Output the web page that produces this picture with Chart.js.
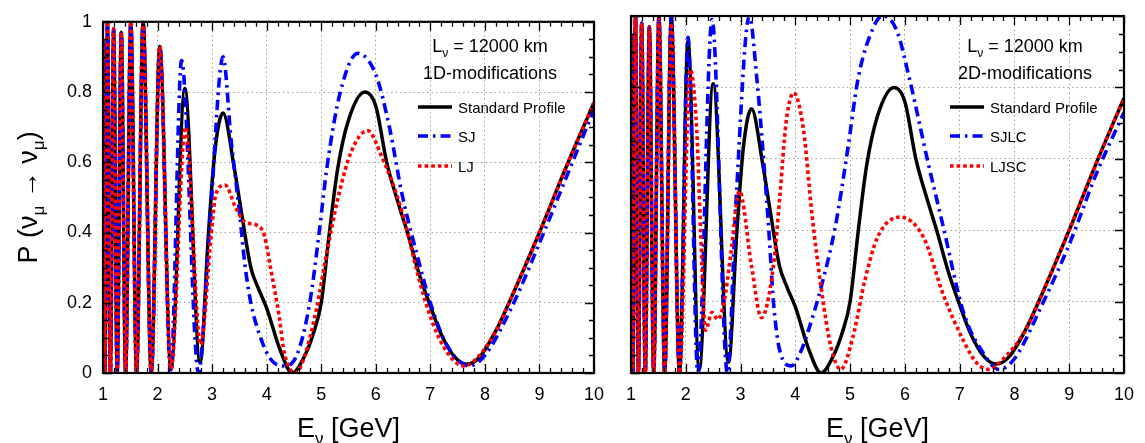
<!DOCTYPE html>
<html>
<head>
<meta charset="utf-8">
<script src="https://cdn.jsdelivr.net/npm/chart.js@4.4.0/dist/chart.umd.min.js"></script>
<style>
  body { margin: 0; background: #fff; width: 1145px; height: 443px; overflow: hidden; position: relative; }
  canvas { position: absolute; top: 0; }
  #left { left: 0; }
  #right { left: 615px; }
</style>
</head>
<body>
<canvas id="left" width="615" height="443"></canvas>
<canvas id="right" width="530" height="443"></canvas>
<script>
/* Datos: E (GeV) y P(nu_mu -> nu_mu) */
const stdE = [1.00, 1.033, 1.082, 1.135, 1.195, 1.26, 1.335, 1.414, 1.51, 1.615, 1.735, 1.885, 2.04, 2.245, 2.5, 2.78, 2.93, 3.05, 3.2, 3.41, 3.53, 3.71, 3.85, 4.0, 4.25, 4.47, 4.7, 4.85, 5.0, 5.15, 5.3, 5.5, 5.8, 6.0, 6.2, 6.4, 6.58, 6.8, 6.99, 7.2, 7.45, 7.67, 7.9, 8.2, 8.5, 9.0, 9.5, 10.0];
const stdP = [0.95, 0.0, 1.0, 0.0, 0.98, 0.0, 0.97, 0.0, 1.0, 0.0, 1.0, 0.0, 0.93, 0.01, 0.81, 0.03, 0.39, 0.63, 0.74, 0.58, 0.465, 0.3, 0.24, 0.185, 0.064, 0.0, 0.05, 0.11, 0.2, 0.4, 0.58, 0.72, 0.80, 0.76, 0.6, 0.49, 0.4, 0.28, 0.195, 0.11, 0.045, 0.025, 0.045, 0.12, 0.22, 0.4, 0.59, 0.77];

const sjE = [1.00, 1.033, 1.082, 1.135, 1.195, 1.26, 1.335, 1.414, 1.51, 1.615, 1.735, 1.885, 2.04, 2.24, 2.44, 2.75, 2.95, 3.2, 3.35, 3.5, 3.6, 3.71, 3.89, 4.07, 4.3, 4.55, 4.79, 4.97, 5.1, 5.35, 5.67, 6.0, 6.25, 6.48, 6.75, 7.0, 7.3, 7.72, 8.0, 8.5, 9.0, 9.5, 10.0];
const sjP = [0.95, 0.0, 1.0, 0.0, 0.98, 0.0, 0.97, 0.0, 1.0, 0.0, 1.0, 0.0, 0.93, 0.0, 0.89, 0.0, 0.4, 0.90, 0.66, 0.46, 0.31, 0.2, 0.1, 0.04, 0.02, 0.05, 0.2, 0.41, 0.58, 0.8, 0.91, 0.85, 0.7, 0.51, 0.34, 0.2, 0.08, 0.02, 0.05, 0.19, 0.37, 0.56, 0.75];

const ljE = [1.00, 1.033, 1.082, 1.135, 1.195, 1.26, 1.335, 1.414, 1.51, 1.615, 1.735, 1.885, 2.04, 2.245, 2.51, 2.79, 2.98, 3.07, 3.24, 3.42, 3.6, 3.83, 3.96, 4.07, 4.23, 4.32, 4.53, 4.7, 4.91, 5.1, 5.31, 5.55, 5.85, 6.1, 6.48, 6.84, 7.1, 7.4, 7.63, 7.9, 8.2, 8.5, 9.0, 9.5, 10.0];
const ljP = [0.95, 0.0, 1.0, 0.0, 0.98, 0.0, 0.97, 0.0, 1.0, 0.0, 1.0, 0.0, 0.93, 0.01, 0.70, 0.08, 0.39, 0.51, 0.535, 0.475, 0.43, 0.42, 0.39, 0.3, 0.16, 0.06, 0.0, 0.05, 0.18, 0.34, 0.5, 0.63, 0.69, 0.62, 0.46, 0.24, 0.12, 0.04, 0.02, 0.05, 0.12, 0.22, 0.4, 0.59, 0.77];

const sjlcE = [1.00, 1.033, 1.082, 1.135, 1.195, 1.26, 1.335, 1.414, 1.51, 1.615, 1.735, 1.885, 2.04, 2.22, 2.48, 2.76, 2.92, 3.16, 3.3, 3.42, 3.52, 3.6, 3.72, 3.93, 4.1, 4.24, 4.47, 4.73, 4.96, 5.14, 5.35, 5.59, 5.85, 6.09, 6.4, 6.7, 7.07, 7.43, 7.72, 8.0, 8.5, 9.0, 9.5, 10.0];
const sjlcP = [0.95, 0.0, 1.0, 0.0, 0.98, 0.0, 0.97, 0.0, 1.0, 0.0, 1.0, 0.0, 0.94, 0.0, 0.99, 0.0, 0.49, 1.0, 0.82, 0.6, 0.39, 0.2, 0.06, 0.02, 0.06, 0.12, 0.24, 0.41, 0.63, 0.82, 0.94, 1.0, 0.96, 0.82, 0.605, 0.41, 0.17, 0.056, 0.01, 0.04, 0.19, 0.36, 0.56, 0.73];

const ljscE = [1.00, 1.033, 1.082, 1.135, 1.195, 1.26, 1.335, 1.414, 1.51, 1.615, 1.735, 1.885, 2.08, 2.2, 2.27, 2.36, 2.48, 2.58, 2.7, 2.82, 2.98, 3.2, 3.38, 3.6, 3.72, 3.83, 3.97, 4.15, 4.3, 4.47, 4.65, 4.83, 5.05, 5.27, 5.5, 5.91, 6.34, 6.7, 7.07, 7.3, 7.53, 7.8, 8.2, 8.5, 9.0, 9.5, 10.0];
const ljscP = [0.95, 0.0, 1.0, 0.0, 0.98, 0.0, 0.97, 0.0, 0.99, 0.0, 0.98, 0.0, 0.85, 0.68, 0.4, 0.12, 0.17, 0.15, 0.2, 0.33, 0.51, 0.3, 0.155, 0.3, 0.5, 0.7, 0.785, 0.68, 0.45, 0.24, 0.073, 0.01, 0.1, 0.26, 0.38, 0.437, 0.38, 0.22, 0.09, 0.03, 0.01, 0.04, 0.12, 0.22, 0.4, 0.59, 0.77];

const xTicks = [1, 2, 3, 4, 5, 6, 7, 8, 9, 10];
const yTicks = [0, 0.2, 0.4, 0.6, 0.8, 1];

const FONT = "'Liberation Sans', Arial, Helvetica, sans-serif";

/* Estilos de las curvas */
const estiloStd = { color: '#000000', width: 3.5, dash: [], order: 2 };
const estiloAzul = { color: '#0000ff', width: 3.6, dash: [10, 5, 2.5, 5], order: 1 };
const estiloRojo = { color: '#ff0000', width: 3.6, dash: [3.6, 3], order: 0 };

/* Texto con subindices */
function textoRico(ctx, partes, x, y, align) {
    let total = 0;
    partes.forEach(p => {
        ctx.font = p.size + 'px ' + FONT;
        p.w = ctx.measureText(p.t).width;
        total += p.w;
    });
    let cx = align === 'center' ? x - total / 2 : x;
    ctx.textBaseline = 'alphabetic';
    ctx.textAlign = 'left';
    partes.forEach(p => {
        ctx.font = p.size + 'px ' + FONT;
        ctx.fillText(p.t, cx, y + (p.dy || 0));
        cx += p.w;
    });
}

/* Marco y marcas hacia dentro */
const marcoPlugin = {
    id: 'marco',
    afterDatasetsDraw(chart) {
        const { ctx, chartArea: a, scales: { x, y } } = chart;
        ctx.save();
        ctx.strokeStyle = '#000';
        ctx.lineWidth = 1.3;
        ctx.setLineDash([]);
        ctx.beginPath();
        for (let i = 0; i <= 45; i++) {
            const px = Math.round(x.getPixelForValue(1 + i * 0.2)) + 0.5;
            const len = i % 5 === 0 ? 9 : 5;
            ctx.moveTo(px, a.bottom); ctx.lineTo(px, a.bottom - len);
            ctx.moveTo(px, a.top); ctx.lineTo(px, a.top + len);
        }
        for (let i = 0; i <= 20; i++) {
            const py = Math.round(y.getPixelForValue(i * 0.05)) + 0.5;
            const len = i % 4 === 0 ? 9 : 5;
            ctx.moveTo(a.left, py); ctx.lineTo(a.left + len, py);
            ctx.moveTo(a.right, py); ctx.lineTo(a.right - len, py);
        }
        ctx.stroke();
        ctx.lineWidth = 2.2;
        ctx.strokeRect(a.left, a.top, a.right - a.left, a.bottom - a.top);
        ctx.restore();
    }
};

/* Leyenda, notas y titulos de ejes */
const textoPlugin = {
    id: 'textos',
    afterDraw(chart, args, o) {
        const { ctx, chartArea: a } = chart;
        ctx.save();
        ctx.fillStyle = '#000';
        textoRico(ctx, [
            { t: 'L', size: 18 },
            { t: '\u03bd', size: 12, dy: 5 },
            { t: ' = 12000 km', size: 18 }
        ], o.notaX, 52, 'center');
        textoRico(ctx, [{ t: o.nota, size: 18 }], o.notaX, 79, 'center');

        const filas = [107, 136, 166];
        chart.data.datasets.forEach((ds, i) => {
            const yy = filas[i];
            ctx.strokeStyle = ds.borderColor;
            ctx.lineWidth = ds.borderWidth;
            ctx.setLineDash(ds.borderDash);
            ctx.beginPath();
            ctx.moveTo(o.legX, yy);
            ctx.lineTo(o.legX + 34, yy);
            ctx.stroke();
            ctx.setLineDash([]);
            ctx.fillStyle = '#000';
            textoRico(ctx, [{ t: ds.label, size: 15 }], o.legX + 40, yy + 5.5, 'left');
        });

        const cx = (a.left + a.right) / 2;
        textoRico(ctx, [
            { t: 'E', size: 27 },
            { t: '\u03bd', size: 17, dy: 7 },
            { t: ' [GeV]', size: 27 }
        ], cx, 437, 'center');

        if (o.tituloY) {
            ctx.translate(37, (a.top + a.bottom) / 2);
            ctx.rotate(-Math.PI / 2);
            textoRico(ctx, [
                { t: 'P (\u03bd', size: 27 },
                { t: '\u03bc', size: 17, dy: 7 },
                { t: ' \u2192 \u03bd', size: 27 },
                { t: '\u03bc', size: 17, dy: 7 },
                { t: ')', size: 27 }
            ], 0, 0, 'center');
        }
        ctx.restore();
    }
};

function serie(label, e, p, st) {
    return {
        label: label,
        data: e.map((v, i) => ({ x: v, y: p[i] })),
        borderColor: st.color,
        borderWidth: st.width,
        borderDash: st.dash,
        order: st.order,
        pointRadius: 0,
        fill: false,
        cubicInterpolationMode: 'monotone',
        borderCapStyle: 'butt'
    };
}

function colorRejilla(ctx) {
    const v = ctx.tick ? ctx.tick.value : null;
    if (v === 1 && ctx.scale.axis === 'x') return 'rgba(0,0,0,0)';
    if (v === 10 || v === 0 || (v === 1 && ctx.scale.axis === 'y')) return 'rgba(0,0,0,0)';
    return '#aaa08f';
}

function crearPanel(id, series, cfg) {
    return new Chart(document.getElementById(id), {
        type: 'line',
        data: { datasets: series },
        options: {
            responsive: false,
            animation: false,
            layout: { padding: { top: 16, right: cfg.padDer, left: 0, bottom: 0 } },
            plugins: {
                legend: { display: false },
                tooltip: { enabled: false },
                textos: cfg.textos
            },
            scales: {
                x: {
                    type: 'linear', min: 1, max: 10,
                    afterFit: s => { s.height = 70; },
                    afterBuildTicks: s => { s.ticks = xTicks.map(v => ({ value: v })); },
                    ticks: { padding: 11, color: '#000', font: { family: FONT, size: 18 }, maxRotation: 0 },
                    grid: { color: colorRejilla, lineWidth: 1, drawTicks: false },
                    border: { display: false, dash: [1.5, 3] }
                },
                y: {
                    type: 'linear', min: 0, max: 1,
                    afterFit: s => { s.width = cfg.anchoY; },
                    afterBuildTicks: s => { s.ticks = yTicks.map(v => ({ value: v })); },
                    ticks: {
                        display: cfg.etiquetasY, padding: 11, color: '#000',
                        font: { family: FONT, size: 18 },
                        callback: v => String(+v.toFixed(1))
                    },
                    grid: { color: colorRejilla, lineWidth: 1, drawTicks: false },
                    border: { display: false, dash: [1.5, 3] }
                }
            }
        },
        plugins: [marcoPlugin, textoPlugin]
    });
}

crearPanel('left', [
    serie('Standard Profile', stdE, stdP, estiloStd),
    serie('SJ', sjE, sjP, estiloAzul),
    serie('LJ', ljE, ljP, estiloRojo)
], {
    padDer: 13, anchoY: 103, etiquetasY: true,
    textos: { nota: '1D-modifications', notaX: 490, legX: 418, tituloY: true }
});

crearPanel('right', [
    serie('Standard Profile', stdE, stdP, estiloStd),
    serie('SJLC', sjlcE, sjlcP, estiloAzul),
    serie('LJSC', ljscE, ljscP, estiloRojo)
], {
    padDer: 15, anchoY: 15, etiquetasY: false,
    textos: { nota: '2D-modifications', notaX: 410, legX: 335, tituloY: false }
});
</script>
</body>
</html>
